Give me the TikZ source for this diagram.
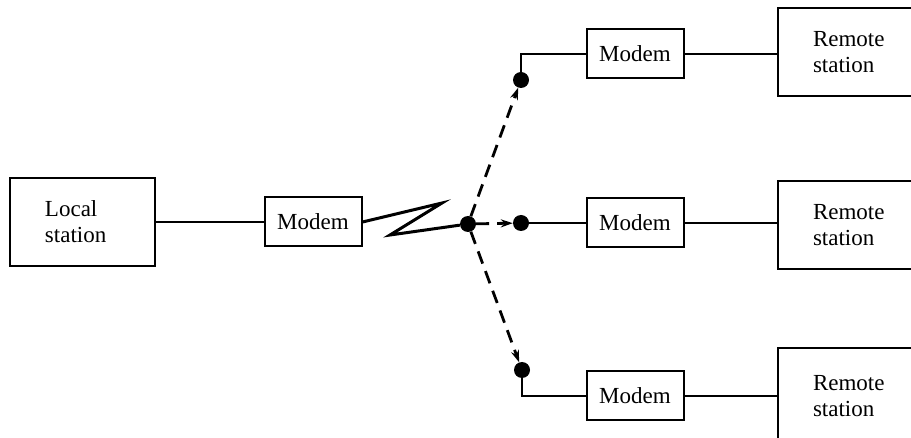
\documentclass[tikz,border=0pt]{standalone}
\usepackage{fontspec}
\setmainfont{Liberation Serif}
\usetikzlibrary{positioning,arrows.meta}

\begin{document}
\begin{tikzpicture}[
  x=1pt, y=-1pt,
  >={Stealth[length=12pt,width=8pt]},
  every node/.style={font=\fontsize{23}{26}\selectfont},
  station/.style={draw, line width=2pt, align=left, text width=75pt, inner xsep=35pt, minimum height=88pt},
  modem/.style={draw, line width=2pt, minimum width=97pt, minimum height=49pt, inner sep=0pt},
  dot/.style={circle, fill, inner sep=0pt, minimum size=16pt},
  wire/.style={line width=2.4pt},
  dial/.style={line width=2.8pt, dash pattern=on 13pt off 8pt},
]
\clip (0,0) rectangle (911,438);
\node[station] (loc) at (82.5,222) {Local\\station};
\node[modem] (mdm) at (313,222) {Modem};
\node[dot] (hub) at (468,224) {};
\node[dot] (dA) at (521,80) {};
\node[dot] (dB) at (521,223) {};
\node[dot] (dC) at (522,370) {};
\node[modem] (mA) at (635,54) {Modem};
\node[modem] (mB) at (635,223) {Modem};
\node[modem] (mC) at (635,396) {Modem};
\node[station] (rA) at (850.5,52.5) {Remote\\station};
\node[station] (rB) at (850.5,225) {Remote\\station};
\node[station, minimum height=96pt] (rC) at (850.5,396) {Remote\\station};
\coordinate (z1) at (442,203);
\coordinate (z2) at (390,235);
\draw[wire] (loc) -- (mdm);
\draw[line width=3pt, line join=miter] (mdm.east) -- (z1) -- (z2) -- (hub);
\draw[dial, ->] (hub) -- (dA);
\draw[dial, ->] (hub) -- (dB);
\draw[dial, ->] (hub) -- (dC);
\draw[wire] (dA) |- (mA.west);
\draw[wire] (dB) -- (mB);
\draw[wire] (dC) |- (mC.west);
\draw[wire] (mA.east) -- (mA.east -| rA.west);
\draw[wire] (mB.east) -- (mB.east -| rB.west);
\draw[wire] (mC.east) -- (mC.east -| rC.west);
\end{tikzpicture}
\end{document}
